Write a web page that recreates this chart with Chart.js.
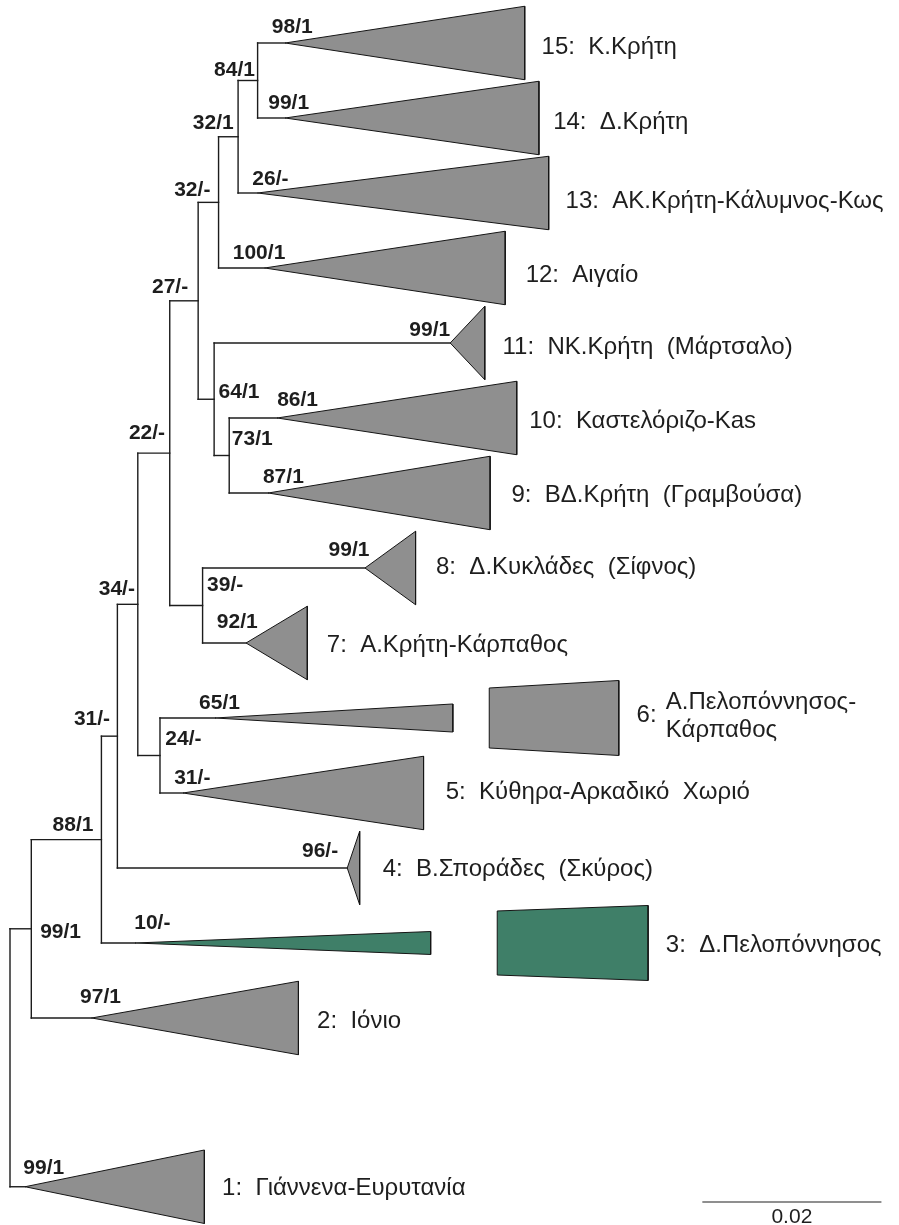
<!DOCTYPE html>
<html>
<head>
<meta charset="utf-8">
<script src="https://cdn.jsdelivr.net/npm/chart.js@4.4.1/dist/chart.umd.min.js"></script>
<style>
  html, body { margin: 0; padding: 0; background: #ffffff; }
  #wrap { width: 899px; height: 1225px; position: relative; }
</style>
</head>
<body>
<div id="wrap"><canvas id="tree"></canvas></div>
<script>
// ---- Collapsed clades (tips), numbered 1..15 ----
const tipIds     = ['t1','t2','t3','t4','t5','t6','t7','t8','t9','t10','t11','t12','t13','t14','t15'];
const tipNumbers = ['1:','2:','3:','4:','5:','6:','7:','8:','9:','10:','11:','12:','13:','14:','15:'];
const tipNames   = [
  ['Γιάννενα-Ευρυτανία'],
  ['Ιόνιο'],
  ['Δ.Πελοπόννησος'],
  ['Β.Σποράδες  (Σκύρος)'],
  ['Κύθηρα-Αρκαδικό  Χωριό'],
  ['Α.Πελοπόννησος-', 'Κάρπαθος'],
  ['Α.Κρήτη-Κάρπαθος'],
  ['Δ.Κυκλάδες  (Σίφνος)'],
  ['ΒΔ.Κρήτη  (Γραμβούσα)'],
  ['Καστελόριζο-Kas'],
  ['ΝΚ.Κρήτη  (Μάρτσαλο)'],
  ['Αιγαίο'],
  ['ΑΚ.Κρήτη-Κάλυμνος-Κως'],
  ['Δ.Κρήτη'],
  ['Κ.Κρήτη']
];
// vertical slot of each clade (rows, top = 0)
const tipRow   = [15.25, 13, 12, 11, 10, 9, 8, 7, 6, 5, 4, 3, 2, 1, 0];
// distance from root to the clade's stem end (substitutions/site)
const tipStem  = [0.0017, 0.0092, 0.0141, 0.0380, 0.0195, 0.0231, 0.0266, 0.0400, 0.0291, 0.0301, 0.0496, 0.0287, 0.0279, 0.0310, 0.0310];
// distance from root to the deepest member of the clade
const tipDepth = [0.0219, 0.0325, 0.0474, 0.0394, 0.0466, 0.0499, 0.0335, 0.0457, 0.0541, 0.0571, 0.0535, 0.0558, 0.0607, 0.0596, 0.0580];
// half-height of the collapsed-clade wedge (rows)
const tipHalf  = [0.49, 0.49, 0.153, 0.49, 0.49, 0.187, 0.49, 0.49, 0.49, 0.49, 0.49, 0.49, 0.49, 0.49, 0.49];
const tipColor = ['#8f8f8f','#8f8f8f','#3f7f68','#8f8f8f','#8f8f8f','#8f8f8f','#8f8f8f','#8f8f8f','#8f8f8f','#8f8f8f','#8f8f8f','#8f8f8f','#8f8f8f','#8f8f8f','#8f8f8f'];

// Clades whose long tips are continued as a separate broken-off block
const contTip       = ['t3', 't6'];
const contStart     = [0.0549, 0.0540];
const contEnd       = [0.0719, 0.0686];
const contHalfStart = [0.427, 0.40];
const contHalfEnd   = [0.50, 0.50];

// ---- Internal nodes: id, depth from root, children ----
const nodeIds  = ['root', 'a', 'b', 'c', 'd', 'f', 'e', 'h', 'g', 'j', 'k', 'i', 'l', 'm'];
const nodeX    = [0.0000, 0.0024, 0.0103, 0.0121, 0.0144, 0.0169, 0.0180, 0.0217, 0.0212, 0.0230, 0.0247, 0.0235, 0.0257, 0.0279];
const nodeKids = [
  ['a', 't1'], ['b', 't2'], ['c', 't3'], ['d', 't4'], ['e', 'f'],
  ['t6', 't5'], ['g', 'h'], ['t8', 't7'], ['i', 'j'], ['t11', 'k'],
  ['t10', 't9'], ['l', 't12'], ['m', 't13'], ['t15', 't14']
];

// ---- Support values (bootstrap / posterior) ----
const supportText = ['98/1','84/1','99/1','32/1','26/-','32/-','100/1','27/-','99/1','64/1','86/1','73/1','87/1','22/-',
                     '99/1','39/-','34/-','92/1','65/1','31/-','24/-','31/-','88/1','96/-','99/1','10/-','97/1','99/1'];
// label anchors (left edge, middle) in axis units
const supportX   = [0.0295,0.0230,0.0291,0.0206,0.0273,0.0185,0.0251,0.0160,0.0450,0.0235,0.0301,0.0250,0.0285,0.0134,
                    0.0359,0.0222,0.0100,0.0233,0.0213,0.0072,0.0175,0.0185,0.0048,0.0329,0.0034,0.0140,0.0079,0.0015];
const supportRow = [-0.213,0.360,0.800,1.067,1.813,1.960,2.800,3.253,3.827,4.653,4.760,5.280,5.787,5.200,
                    6.760,7.227,7.280,7.720,8.800,9.013,9.280,9.800,10.427,10.773,11.853,11.733,12.720,15.000];

// clade name anchors (left edge, middle) in axis units
const tipLabelX   = [0.0239,0.0346,0.0739,0.0420,0.0491,0.0706,0.0357,0.0480,0.0565,0.0585,0.0555,0.0581,0.0626,0.0612,0.0599];
const tipLabelRow = [15.267,13.040,12.027,11.013,9.987,8.960,8.027,6.987,6.027,5.040,4.053,3.093,2.107,1.053,0.053];
const tipNameX    = [null,null,null,null,null,0.0739,null,null,null,null,null,null,null,null,null];
const tipNameRows = [null,null,null,null,null,[8.787, 9.160],null,null,null,null,null,null,null,null,null];

// scale bar
const scaleBarLength = 0.02;
const scaleBarLabel  = '0.02';
const scaleBarStart  = 0.0781;
const scaleBarRow    = 15.453;
const scaleBarTextRow = 15.653;

// ---- Build tree geometry in axis units ----
const tipIndex = {};
tipIds.forEach((id, i) => tipIndex[id] = i);
const nodeIndex = {};
nodeIds.forEach((id, i) => nodeIndex[id] = i);

function rowOf(id) {
  if (id in tipIndex) return tipRow[tipIndex[id]];
  const kids = nodeKids[nodeIndex[id]];
  return (rowOf(kids[0]) + rowOf(kids[1])) / 2;
}
function xOf(id) {
  if (id in tipIndex) return tipStem[tipIndex[id]];
  return nodeX[nodeIndex[id]];
}

const BRANCH = '#1c1c1c';
const datasets = [];

function segment(points, color, width) {
  datasets.push({
    data: points, showLine: true, borderColor: color, borderWidth: width,
    pointRadius: 0, fill: false, tension: 0, borderCapStyle: 'square'
  });
}

// collapsed clade wedges
tipIds.forEach((id, i) => {
  const r = tipRow[i], h = tipHalf[i];
  datasets.push({
    data: [
      { x: tipStem[i], y: r },
      { x: tipDepth[i], y: r - h },
      { x: tipDepth[i], y: r + h },
      { x: tipStem[i], y: r }
    ],
    showLine: true, fill: 'shape', backgroundColor: tipColor[i],
    borderColor: '#151515', borderWidth: 1, pointRadius: 0, tension: 0,
    borderJoinStyle: 'miter'
  });
});

// broken-off continuation blocks
contTip.forEach((id, k) => {
  const i = tipIndex[id], r = tipRow[i];
  datasets.push({
    data: [
      { x: contStart[k], y: r - contHalfStart[k] },
      { x: contEnd[k],   y: r - contHalfEnd[k] },
      { x: contEnd[k],   y: r + contHalfEnd[k] },
      { x: contStart[k], y: r + contHalfStart[k] },
      { x: contStart[k], y: r - contHalfStart[k] }
    ],
    showLine: true, fill: 'shape', backgroundColor: tipColor[i],
    borderColor: '#151515', borderWidth: 1, pointRadius: 0, tension: 0,
    borderJoinStyle: 'miter'
  });
});

// branches: vertical connector at each node, horizontal line to each child
nodeIds.forEach((id, n) => {
  const x = nodeX[n];
  const rows = nodeKids[n].map(rowOf);
  segment([{ x: x, y: Math.min(...rows) }, { x: x, y: Math.max(...rows) }], BRANCH, 1.4);
  nodeKids[n].forEach((kid, j) => {
    segment([{ x: x, y: rows[j] }, { x: xOf(kid), y: rows[j] }], BRANCH, 1.4);
  });
});

// scale bar
segment([{ x: scaleBarStart, y: scaleBarRow }, { x: scaleBarStart + scaleBarLength, y: scaleBarRow }], '#6a6a6a', 1.6);

// ---- Text layer ----
const treeText = {
  id: 'treeText',
  afterDatasetsDraw(chart) {
    const { ctx, scales: { x, y } } = chart;
    ctx.save();
    ctx.textBaseline = 'middle';
    ctx.textAlign = 'left';
    ctx.fillStyle = '#1e1e1e';

    ctx.font = 'bold 21px "Liberation Sans", Arial, sans-serif';
    supportText.forEach((t, i) => {
      ctx.fillText(t, x.getPixelForValue(supportX[i]), y.getPixelForValue(supportRow[i]));
    });

    ctx.font = '24px "Liberation Sans", Arial, sans-serif';
    tipIds.forEach((id, i) => {
      const px = x.getPixelForValue(tipLabelX[i]);
      const py = y.getPixelForValue(tipLabelRow[i]);
      if (tipNameRows[i]) {
        ctx.fillText(tipNumbers[i], px, py);
        tipNames[i].forEach((line, j) => {
          ctx.fillText(line, x.getPixelForValue(tipNameX[i]), y.getPixelForValue(tipNameRows[i][j]));
        });
      } else {
        ctx.fillText(tipNumbers[i] + '  ' + tipNames[i][0], px, py);
      }
    });

    ctx.font = '21px "Liberation Sans", Arial, sans-serif';
    ctx.textAlign = 'center';
    ctx.fillText(scaleBarLabel, x.getPixelForValue(scaleBarStart + scaleBarLength / 2), y.getPixelForValue(scaleBarTextRow));
    ctx.restore();
  }
};

new Chart(document.getElementById('tree'), {
  type: 'scatter',
  data: { datasets },
  options: {
    responsive: true,
    maintainAspectRatio: false,
    animation: false,
    events: [],
    layout: { padding: 0 },
    plugins: { legend: { display: false }, tooltip: { enabled: false } },
    scales: {
      x: { type: 'linear', min: -0.001127, max: 0.10017, display: false },
      y: { type: 'linear', min: -0.5733, max: 15.76, reverse: true, display: false }
    }
  },
  plugins: [treeText]
});
</script>
</body>
</html>
